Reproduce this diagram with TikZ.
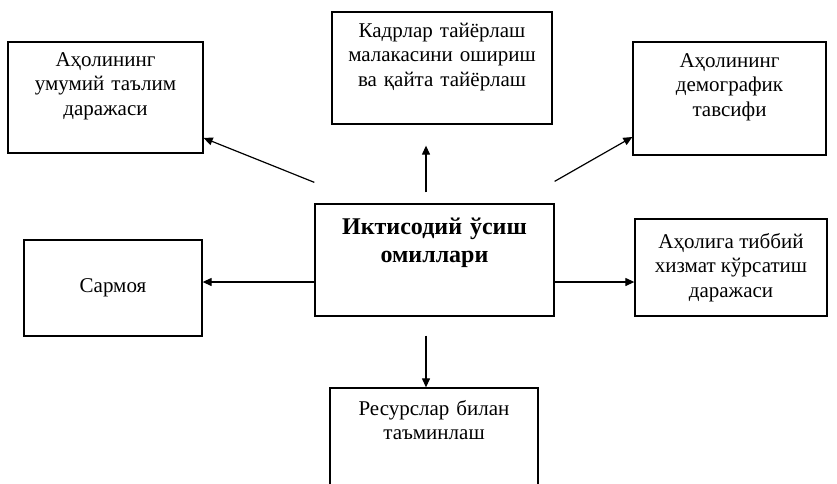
\documentclass[tikz,border=0pt]{standalone}
\usepackage{fontspec}
\setmainfont{Liberation Serif}
\usetikzlibrary{arrows.meta}
\begin{document}
\begin{tikzpicture}[x=1pt,y=-1pt,
    factorbox/.style={draw,line width=1.3pt,inner sep=0pt,align=center,font=\fontsize{21}{24.5}\selectfont},
    factorlabel/.style={anchor=base,align=center,inner sep=0pt,font=\fontsize{21}{24.5}\selectfont},
    link/.style={line width=1.2pt,-{Triangle[length=9pt,width=8pt]}}]
\useasboundingbox (0,0) rectangle (837,483);
\clip (0,0) rectangle (837,483);

\node[factorbox,minimum width=195pt,minimum height=111pt] (talim) at (105.5,97.5) {};
\node[factorbox,minimum width=220pt,minimum height=112pt] (kadr) at (442,68) {};
\node[factorbox,minimum width=193pt,minimum height=113pt] (demog) at (729.5,98.5) {};
\node[factorbox,minimum width=239pt,minimum height=112pt] (markaz) at (434.5,260) {};
\node[factorbox,minimum width=178pt,minimum height=96pt] (sarmoya) at (113,288) {Сармоя};
\node[factorbox,minimum width=192pt,minimum height=97pt] (tibbiy) at (731,267.5) {Аҳолига тиббий\\хизмат кўрсатиш\\даражаси};
\node[factorbox,minimum width=208pt,minimum height=120pt] (resurs) at (434,448) {};

\node[factorlabel,text width=195pt] (talimtxt) at ([yshift=-25pt]talim.north) {Аҳолининг\\умумий таълим\\даражаси};
\node[factorlabel,text width=220pt] (kadrtxt) at ([yshift=-26pt]kadr.north) {Кадрлар тайёрлаш\\малакасини ошириш\\ва қайта тайёрлаш};
\node[factorlabel,text width=193pt] (demogtxt) at ([yshift=-26pt]demog.north) {Аҳолининг\\демографик\\тавсифи};
\node[factorlabel,text width=239pt,font=\bfseries\fontsize{24}{28}\selectfont] (markaztxt) at ([yshift=-31pt]markaz.north) {Иктисодий ўсиш\\омиллари};
\node[factorlabel,text width=208pt] (resurstxt) at ([yshift=-28pt]resurs.north) {Ресурслар билан\\таъминлаш};

\coordinate (talimfrom) at ([yshift=21pt]markaz.north west);
\coordinate (demogfrom) at ([yshift=22pt]markaz.north east);
\coordinate (kadrfrom) at ([xshift=-8.5pt,yshift=11pt]markaz.north);
\coordinate (kadrto) at ([xshift=-16pt,yshift=-21pt]kadr.south);
\coordinate (resursfrom) at ([xshift=-8.5pt,yshift=-19pt]markaz.south);
\coordinate (sarmoyafrom) at ([yshift=-22pt]markaz.west);
\coordinate (tibbiyfrom) at ([yshift=-22pt]markaz.east);

\draw[link] (talimfrom) -- ([yshift=-40.5pt]talim.east);
\draw[link] (demogfrom) -- ([yshift=-38.5pt]demog.west);
\draw[link] (kadrfrom) -- (kadrto);
\draw[link] (resursfrom) -- (resurs.north -| resursfrom);
\draw[link] (sarmoyafrom) -- (sarmoya.east |- sarmoyafrom);
\draw[link] (tibbiyfrom) -- (tibbiy.west |- tibbiyfrom);
\end{tikzpicture}
\end{document}
